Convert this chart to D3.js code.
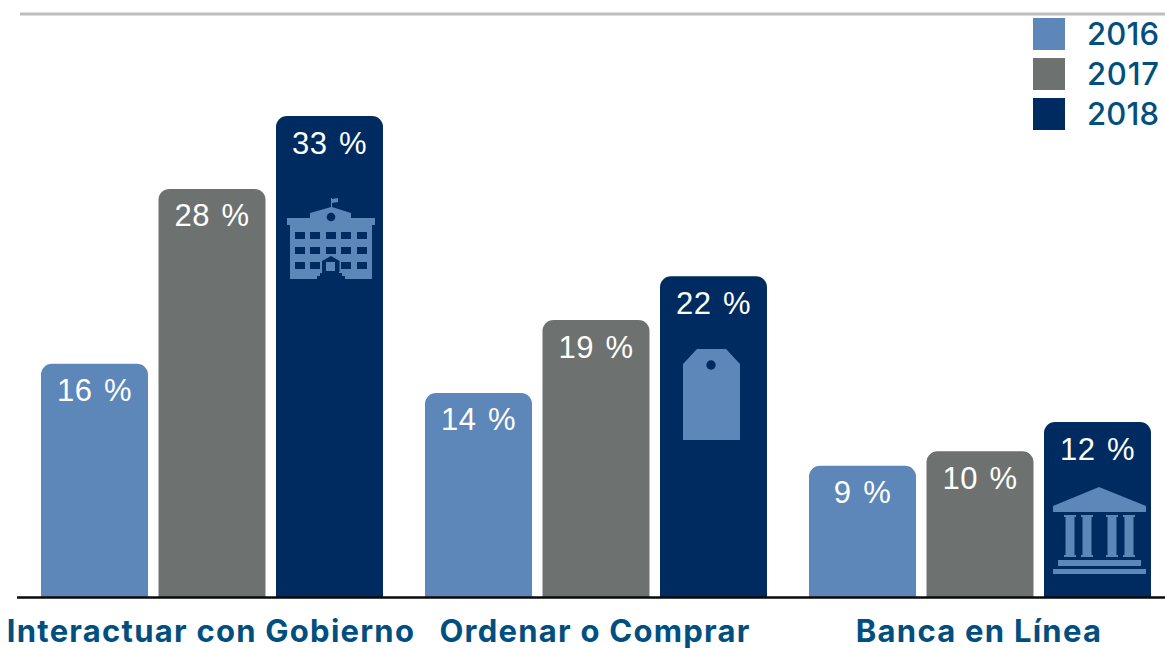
<!DOCTYPE html>
<html><head><meta charset="utf-8"><style>
html,body{margin:0;padding:0;background:#fff}
svg{display:block}
</style>
<script src="https://cdn.jsdelivr.net/npm/d3@7"></script></head><body>
<svg id="c" width="1165" height="648"></svg>
<script>
const categories = ["Interactuar con Gobierno","Ordenar o Comprar","Banca en Línea"];
const years = ["2016","2017","2018"];
const values2016 = [16,14,9];
const values2017 = [28,19,10];
const values2018 = [33,22,12];
const seriesValues = [values2016,values2017,values2018];
const colors = ["#5d86b9","#6d7270","#002b60"];
const W=1165,H=648,base=597;
const svg=d3.select("#c");
const x0=d3.scaleBand().domain(categories).range([41,1151]).paddingInner(42/384).paddingOuter(0);
const x1=d3.scaleBand().domain(years).range([0,x0.bandwidth()]).paddingInner(10.5/117.5).paddingOuter(0);
const y=d3.scaleLinear().domain([0,33]).range([base,116]);
const color=d3.scaleOrdinal().domain(years).range(colors);
svg.append("line").attr("x1",20).attr("x2",W).attr("y1",14).attr("y2",14).attr("stroke","#bdbdbd").attr("stroke-width",3);
const rows=categories.flatMap((c,i)=>years.map((yr,j)=>({c,yr,v:seriesValues[j][i]})));
const barPath=d=>{const x=x0(d.c)+x1(d.yr),w=x1.bandwidth(),t=y(d.v),r=11;
  const p=d3.path();p.moveTo(x,base);p.lineTo(x,t+r);p.arcTo(x,t,x+r,t,r);p.lineTo(x+w-r,t);p.arcTo(x+w,t,x+w,t+r,r);p.lineTo(x+w,base);p.closePath();return p.toString();};
svg.append("g").selectAll("path").data(rows).join("path").attr("d",barPath).attr("fill",d=>color(d.yr));
svg.append("g").selectAll("text").data(rows).join("text")
 .attr("x",d=>x0(d.c)+x1(d.yr)+x1.bandwidth()/2).attr("y",d=>y(d.v)+37.5)
 .attr("text-anchor","middle").attr("fill","#fff")
 .attr("font-family","'Liberation Sans',Arial,sans-serif").attr("font-size",31).attr("letter-spacing",0.5).attr("word-spacing",2.5)
 .text(d=>d.v+" %");
// baseline
svg.append("line").attr("x1",17).attr("x2",W).attr("y1",base+0.5).attr("y2",base+0.5).attr("stroke","#0a0a0a").attr("stroke-width",2.5);
// category axis
const ax=svg.append("g").attr("transform",`translate(-1,${base})`).call(d3.axisBottom(x0).tickSize(0).tickPadding(23));
ax.select(".domain").remove();
ax.selectAll("text").attr("font-family","Inter,sans-serif").attr("font-weight",700).attr("font-size",31).attr("letter-spacing",1.25).attr("fill","#004f80");
// legend
const leg=svg.append("g").selectAll("g").data(years).join("g").attr("transform",(d,i)=>`translate(1033,${18+40*i})`);
leg.append("rect").attr("width",32).attr("height",32).attr("fill",d=>color(d));
leg.append("text").attr("x",54).attr("y",26.5).attr("font-family","Inter,sans-serif").attr("font-weight",500).attr("font-size",31).attr("textLength",72).attr("fill","#004f80").text(d=>d);
// icons: placed relative to each 2018 bar
const iconFill=colors[0],iconHole=colors[2];
function barCx(i){return x0(categories[i])+x1("2018")+x1.bandwidth()/2;}
const R=(g,a,b,c,d,f)=>g.append("rect").attr("x",a).attr("y",b).attr("width",c-a).attr("height",d-b).attr("fill",f);
// school
const s=svg.append("g").attr("transform",`translate(${barCx(0)+1.5},0)`);
s.append("path").attr("d","M0 198H1V199L7 198V202L1 203V207L20 213V218H44V225H41V279H14V276H11V273H8V271H-9V273H-11V276H-14V279H-41V225H-44V218H-21V213L0 207Z").attr("fill",iconFill);
[232,247,262].forEach(yy=>[-36,-21,-5,10,26].forEach(xx=>{ if(!(yy===262&&xx===-5)) R(s,xx,yy,xx+10,yy+7,iconHole);}));
s.append("circle").attr("cx",0).attr("cy",217).attr("r",4.3).attr("fill",iconHole);
s.append("path").attr("d","M-9 272V261L0 256L8.5 261V272Z").attr("fill",iconHole);
R(s,-5,262,4,271,iconFill);
// tag
const t=svg.append("g").attr("transform",`translate(${barCx(1)},0)`);
t.append("path").attr("d","M-16.5 349H12.5L26.5 364V440H-30.5V364Z").attr("fill",iconFill);
t.append("circle").attr("cx",-2.5).attr("cy",365).attr("r",4.7).attr("fill",iconHole);
// bank
const b=svg.append("g").attr("transform",`translate(${barCx(2)},0)`);
b.append("path").attr("d","M1.5 487L48.5 506V512H-44.5V506Z").attr("fill",iconFill);
[-27.5,-10.5,14.5,31.5].forEach(cx=>{
 b.append("path").attr("d",`M${cx-6} 515H${cx+6}V517H${cx+4.5}V555H${cx+6}V557H${cx-6}V555H${cx-4.5}V517H${cx-6}Z`).attr("fill",iconFill);
});
R(b,-39.5,560,43.5,566,iconFill);
R(b,-44.5,569,48.5,574,iconFill);
</script></body></html>
